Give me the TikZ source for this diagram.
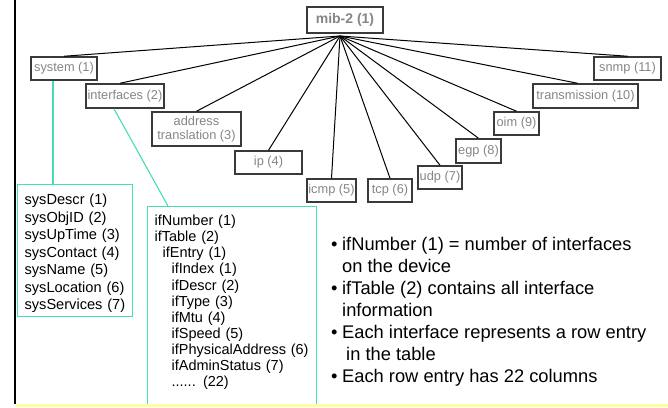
\documentclass[tikz,border=0pt]{standalone}
\usepackage{fontspec}
\setmainfont{Liberation Sans}
\usepackage{xcolor}
\usepackage{tikz}
\usetikzlibrary{positioning, calc}
\definecolor{labelgray}{HTML}{858585}
\definecolor{boxedge}{HTML}{3A3A3A}
\definecolor{groupteal}{HTML}{44DDB8}
\definecolor{paleyellow}{HTML}{FFFF99}
\newcommand{\notebullet}{\makebox[11pt][l]{\textbullet}}

\begin{document}
\begin{tikzpicture}[x=1pt, y=-1pt,
    mibnode/.style={draw=boxedge, line width=1.5pt, text=labelgray, inner sep=1pt,
      font=\fontsize{12.8}{14}\selectfont, align=center, minimum height=23pt},
    tieline/.style={black, line width=1pt},
    groupbox/.style={draw=groupteal, line width=1.2pt, anchor=north west,
      align=left, inner xsep=7pt, inner ysep=0pt},
    groupline/.style={groupteal, line width=1.1pt}]
    \useasboundingbox (0,0) rectangle (668,407);
    \draw[line width=1.8pt] (15,0) -- (15,404);

    \node[mibnode, font=\bfseries\fontsize{14}{16}\selectfont,
          minimum width=76pt, minimum height=26pt] (mib) at (345,20) {mib-2 (1)};
    \coordinate (hub) at (340,36);

    \node[mibnode, minimum width=66pt] (system) at (64,68.5) {system (1)};
    \node[mibnode, minimum width=78pt, minimum height=24pt] (interfaces) at (125,96) {interfaces (2)};
    \node[mibnode, minimum width=89pt, minimum height=34pt] (addrtrans) at (196.5,129) {address\\translation (3)};
    \node[mibnode, minimum width=67pt] (ip) at (268.5,162.5) {ip (4)};
    \node[mibnode, minimum width=49pt] (icmp) at (331.5,190.5) {icmp (5)};
    \node[mibnode, minimum width=44pt] (tcp) at (390,190.5) {tcp (6)};
    \node[mibnode, minimum width=44pt] (udp) at (440,177.5) {udp (7)};
    \node[mibnode, minimum width=45pt, minimum height=24pt] (egp) at (478.5,151) {egp (8)};
    \node[mibnode, minimum width=45pt] (oim) at (516.5,123.5) {oim (9)};
    \node[mibnode, minimum width=105pt, minimum height=24pt] (transmission) at (585.5,96) {transmission (10)};
    \node[mibnode, minimum width=67pt] (snmp) at (627.5,68.5) {snmp (11)};

    \foreach \grp in {system, addrtrans, ip, icmp, tcp, udp, egp, oim, snmp}
      \draw[tieline] (hub) -- (\grp.north);
    \draw[tieline] (hub) -- ([xshift=-5pt]interfaces.north);
    \draw[tieline] (hub) -- ([xshift=-8pt]transmission.north);

    \node[groupbox, text width=101pt, text height=20pt, text depth=112pt,
          font=\fontsize{14.6}{17.5}\selectfont] (sysgroup) at (17,184) {%
      sysDescr (1)\\sysObjID (2)\\sysUpTime (3)\\sysContact (4)\\%
      sysName (5)\\sysLocation (6)\\sysServices (7)};
    \node[groupbox, text width=155pt, text height=19pt, text depth=181pt,
          font=\fontsize{14.5}{16.1}\selectfont] (ifgroup) at (147,206) {%
      ifNumber (1)\\ifTable (2)\\\hspace*{8pt}ifEntry (1)\\%
      \hspace*{17pt}ifIndex (1)\\\hspace*{17pt}ifDescr (2)\\\hspace*{17pt}ifType (3)\\%
      \hspace*{17pt}ifMtu (4)\\\hspace*{17pt}ifSpeed (5)\\%
      \hspace*{17pt}ifPhysicalAddress (6)\\\hspace*{17pt}ifAdminStatus (7)\\%
      \hspace*{17pt}...... (22)};

    \draw[groupline] ([xshift=-11pt]system.south) -- ([xshift=-11pt]system.south |- sysgroup.north);
    \draw[groupline] ([xshift=-11pt]interfaces.south) -- ([xshift=21pt]ifgroup.north west);

    \node[anchor=north west, inner sep=0pt, align=left,
          font=\fontsize{18.3}{22}\selectfont] (notes) at (331,237) {%
      \notebullet ifNumber (1) = number of interfaces\\%
      \hspace*{11pt}on the device\\%
      \notebullet ifTable (2) contains all interface\\%
      \hspace*{11pt}information\\%
      \notebullet Each interface represents a row entry\\%
      \hspace*{15pt}in the table\\%
      \notebullet Each row entry has 22 columns};

    \fill[paleyellow] (15.9,403.5) rectangle (668,407);
  \end{tikzpicture}
\end{document}
